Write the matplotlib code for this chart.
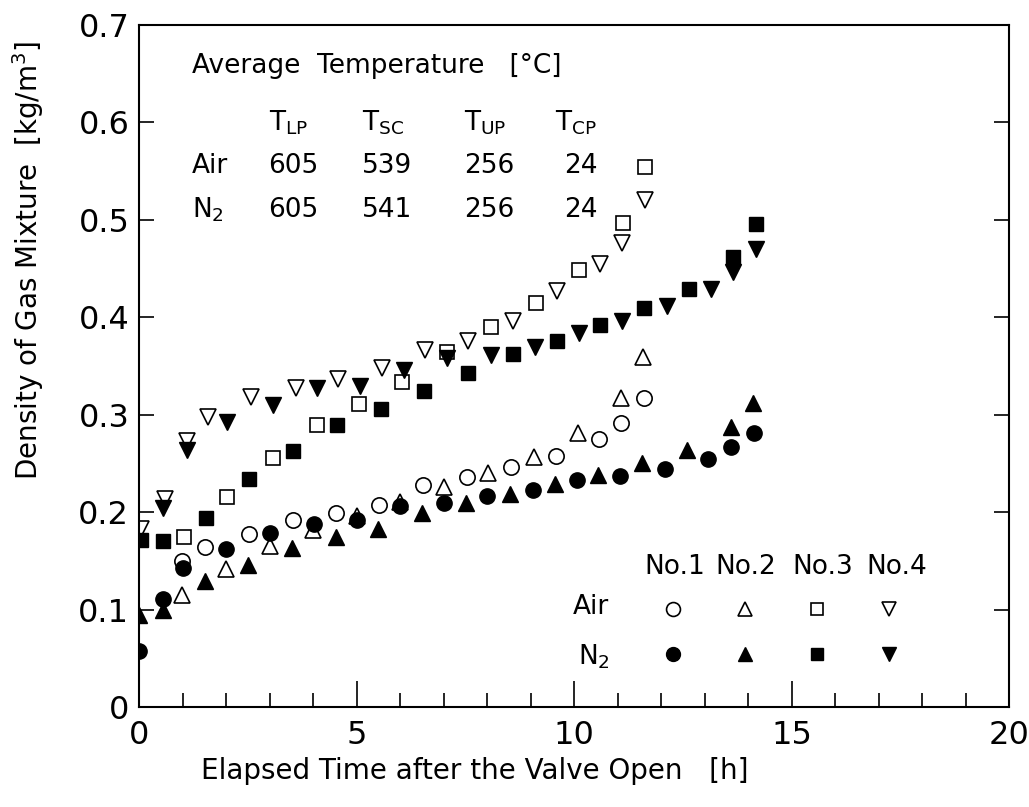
import matplotlib
matplotlib.use("Agg")
import matplotlib.pyplot as plt
from matplotlib.lines import Line2D
from matplotlib.ticker import MultipleLocator

# Air runs (open markers): elapsed time [h], density [kg/m3]
AIR1_T = [0.98, 1.52, 2.53, 3.53, 4.53, 5.52, 6.52, 7.53, 8.54, 9.58, 10.57, 11.08, 11.60]
AIR1_RHO = [0.150, 0.164, 0.178, 0.192, 0.199, 0.207, 0.228, 0.236, 0.246, 0.258, 0.275, 0.291, 0.317]
AIR2_T = [0.98, 2.00, 3.00, 4.00, 5.00, 6.00, 7.00, 8.03, 9.09, 10.08, 11.08, 11.58]
AIR2_RHO = [0.115, 0.142, 0.165, 0.182, 0.196, 0.210, 0.226, 0.240, 0.257, 0.281, 0.317, 0.359]
AIR3_T = [1.03, 2.02, 3.09, 4.10, 5.06, 6.05, 7.07, 8.09, 9.12, 10.12, 11.12, 11.63]
AIR3_RHO = [0.175, 0.216, 0.256, 0.289, 0.311, 0.334, 0.364, 0.390, 0.415, 0.449, 0.497, 0.554]
AIR4_T = [0.05, 0.60, 1.11, 1.58, 2.57, 3.60, 4.57, 5.58, 6.57, 7.57, 8.60, 9.60, 10.60, 11.10, 11.63]
AIR4_RHO = [0.183, 0.214, 0.273, 0.298, 0.318, 0.327, 0.337, 0.348, 0.366, 0.376, 0.396, 0.427, 0.455, 0.476, 0.520]

# N2 runs (filled markers)
N21_T = [0.00, 0.56, 1.02, 2.01, 3.00, 4.03, 5.00, 6.00, 7.00, 8.01, 9.05, 10.06, 11.06, 12.08, 13.09, 13.60, 14.14]
N21_RHO = [0.057, 0.111, 0.143, 0.162, 0.179, 0.188, 0.192, 0.206, 0.209, 0.217, 0.223, 0.233, 0.237, 0.244, 0.255, 0.267, 0.281]
N22_T = [0.00, 0.56, 1.52, 2.51, 3.51, 4.53, 5.50, 6.50, 7.51, 8.53, 9.56, 10.56, 11.57, 12.59, 13.60, 14.12]
N22_RHO = [0.094, 0.100, 0.129, 0.146, 0.163, 0.175, 0.183, 0.199, 0.209, 0.219, 0.229, 0.238, 0.250, 0.264, 0.287, 0.312]
N23_T = [0.05, 0.56, 1.53, 2.53, 3.55, 4.56, 5.56, 6.55, 7.56, 8.59, 9.60, 10.60, 11.62, 12.65, 13.66, 14.18]
N23_RHO = [0.171, 0.170, 0.194, 0.234, 0.263, 0.289, 0.306, 0.324, 0.343, 0.362, 0.376, 0.392, 0.410, 0.429, 0.462, 0.496]
N24_T = [0.56, 1.11, 2.02, 3.09, 4.09, 5.07, 6.08, 7.07, 8.08, 9.10, 10.11, 11.10, 12.13, 13.15, 13.66, 14.18]
N24_RHO = [0.204, 0.264, 0.293, 0.310, 0.327, 0.329, 0.346, 0.358, 0.361, 0.370, 0.384, 0.396, 0.412, 0.429, 0.446, 0.470]

# average temperature table [degC]
TEMP_COLS = [r"T$_{\mathregular{LP}}$", r"T$_{\mathregular{SC}}$",
             r"T$_{\mathregular{UP}}$", r"T$_{\mathregular{CP}}$"]
AIR_TEMPS = [605, 539, 256, 24]
N2_TEMPS = [605, 541, 256, 24]

RUN_NAMES = ["No.1", "No.2", "No.3", "No.4"]
X_TICKS = [0, 5, 10, 15, 20]
Y_TICKS = [0, 0.1, 0.2, 0.3, 0.4, 0.5, 0.6, 0.7]
Y_TICK_LABELS = ["0", "0.1", "0.2", "0.3", "0.4", "0.5", "0.6", "0.7"]

MARKERS = ["o", "^", "s", "v"]
MSIZE = {"o": 11, "^": 11, "s": 10, "v": 11}

plt.rcParams["font.family"] = ["DejaVu Sans"]

fig = plt.figure(figsize=(10.29, 8.07), dpi=100)
ax = fig.add_axes([0.1351, 0.1239, 0.8455, 0.8451])

air = [(AIR1_T, AIR1_RHO), (AIR2_T, AIR2_RHO), (AIR3_T, AIR3_RHO), (AIR4_T, AIR4_RHO)]
n2 = [(N21_T, N21_RHO), (N22_T, N22_RHO), (N23_T, N23_RHO), (N24_T, N24_RHO)]

for (t, rho), m in zip(air, MARKERS):
    ax.plot(t, rho, ls="none", marker=m, ms=MSIZE[m], mfc="none",
            mec="black", mew=1.2, zorder=3)
for (t, rho), m in zip(n2, MARKERS):
    ax.plot(t, rho, ls="none", marker=m, ms=MSIZE[m], mfc="black",
            mec="black", mew=1.0, zorder=3)

ax.set_xlim(0, 20)
ax.set_ylim(0, 0.7)
ax.set_xticks(X_TICKS)
ax.set_xticklabels([str(v) for v in X_TICKS])
ax.xaxis.set_minor_locator(MultipleLocator(1))
ax.set_yticks(Y_TICKS)
ax.set_yticklabels(Y_TICK_LABELS)
ax.tick_params(axis="x", which="major", direction="in", length=19, width=1.2,
               labelsize=23, pad=9)
ax.tick_params(axis="x", which="minor", direction="in", length=10, width=1.2)
ax.tick_params(axis="y", which="major", direction="in", length=11, width=1.2,
               right=True, labelsize=23, pad=7)
for s in ax.spines.values():
    s.set_linewidth(1.5)

ax.text(0.386, -0.094, "Elapsed Time after the Valve Open   [h]",
        transform=ax.transAxes, ha="center", va="center", fontsize=20)
ax.text(-0.128, 0.655, r"Density of Gas Mixture  [kg/m$^{\mathregular{3}}$]",
        transform=ax.transAxes, ha="center", va="center", rotation=90, fontsize=20)

# temperature table
ax.text(1.22, 0.658, "Average  Temperature   [°C]", ha="left", va="center", fontsize=19)
col_x = [3.45, 5.6, 7.95, 10.05]
for x, lab in zip(col_x, TEMP_COLS):
    ax.text(x, 0.600, lab, ha="center", va="center", fontsize=19)
ax.text(1.21, 0.555, "Air", ha="left", va="center", fontsize=19)
ax.text(1.21, 0.510, r"N$_{\mathregular{2}}$", ha="left", va="center", fontsize=19)
for x, a, n in zip(col_x, AIR_TEMPS, N2_TEMPS):
    ax.text(x + 0.1, 0.555, str(a), ha="center", va="center", fontsize=19)
    ax.text(x + 0.1, 0.510, str(n), ha="center", va="center", fontsize=19)

# marker key
handles = []
for m in MARKERS:
    handles.append(Line2D([], [], ls="none", marker=m, ms=MSIZE[m] - 1, mfc="none",
                          mec="black", mew=1.2))
    handles.append(Line2D([], [], ls="none", marker=m, ms=MSIZE[m] - 1, mfc="black",
                          mec="black"))
ax.legend(handles, [""] * 8, ncol=4, loc="center", bbox_to_anchor=(0.738, 0.1095),
          frameon=False, fontsize=10, handlelength=1.0, handletextpad=0.0,
          columnspacing=4.2, labelspacing=2.3, borderpad=0)
for x, name in zip([12.32, 13.95, 15.72, 17.43], RUN_NAMES):
    ax.text(x, 0.144, name, ha="center", va="center", fontsize=19)
ax.text(9.98, 0.103, "Air", ha="left", va="center", fontsize=19)
ax.text(10.1, 0.052, r"N$_{\mathregular{2}}$", ha="left", va="center", fontsize=19)

fig.savefig("out.png", dpi=100, facecolor="white")
